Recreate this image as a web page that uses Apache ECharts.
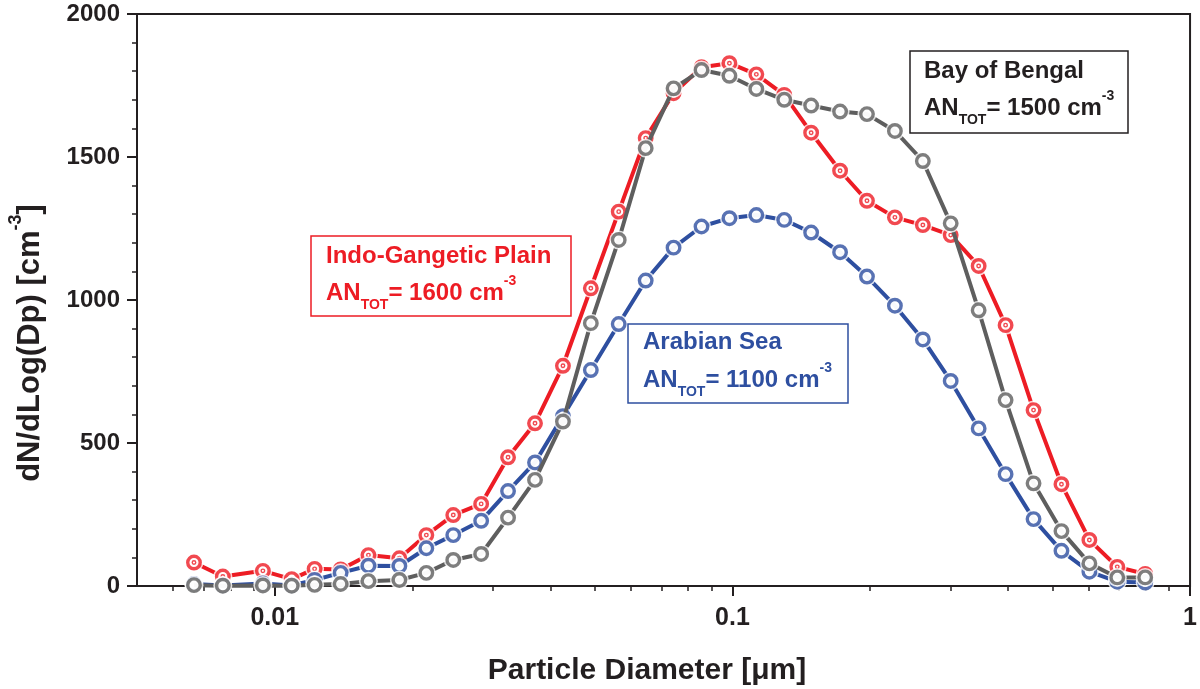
<!DOCTYPE html>
<html>
<head>
<meta charset="utf-8">
<title>Particle size distributions</title>
<script src="https://cdn.jsdelivr.net/npm/echarts@6/dist/echarts.min.js"></script>
<style>
  html, body { margin: 0; padding: 0; background: #fff; }
  #main { width: 1200px; height: 689px; }
</style>
</head>
<body>
<div id="main"></div>
<script>
// particle diameter of each size bin [um]
var diameter = [0.00666, 0.0077, 0.00942, 0.01089, 0.01222, 0.01393, 0.01602, 0.01872, 0.02144,
  0.02455, 0.02825, 0.03234, 0.03704, 0.04263, 0.04905, 0.05644, 0.06464, 0.07437, 0.0856,
  0.09851, 0.1128, 0.1298, 0.1486, 0.1719, 0.1968, 0.2265, 0.2607, 0.2999, 0.3452, 0.3953,
  0.455, 0.5236, 0.6026, 0.6934, 0.798];

// dN/dLog(Dp) [cm-3]
var indoGangetic = [82, 33, 53, 24, 60, 58, 108, 97, 178, 248, 287, 450, 569, 770, 1041, 1309,
  1566, 1723, 1814, 1828, 1789, 1717, 1585, 1452, 1347, 1289, 1262, 1227, 1119, 912, 615, 356,
  161, 67, 42];
var arabianSea = [7, 2, 9, 2, 21, 46, 71, 70, 132, 178, 228, 332, 432, 594, 755, 916, 1068, 1183,
  1257, 1286, 1297, 1280, 1236, 1167, 1082, 980, 862, 717, 551, 391, 234, 123, 50, 15, 12];
var bayOfBengal = [3, 1, 2, 1, 4, 7, 17, 21, 46, 91, 112, 239, 371, 575, 919, 1210, 1531, 1740,
  1804, 1784, 1738, 1700, 1680, 1659, 1650, 1591, 1486, 1268, 964, 650, 359, 192, 79, 30, 30];

var xMajorTicks = [0.01, 0.1, 1];
var xMinorTicks = [0.006, 0.007, 0.008, 0.009, 0.02, 0.03, 0.04, 0.05, 0.06, 0.07, 0.08, 0.09,
  0.2, 0.3, 0.4, 0.5, 0.6, 0.7, 0.8, 0.9];

var RED = '#ed1c24', BLUE = '#2e4fa0', GRAY = '#5e5e5e', INK = '#231f20';
var FONT = 'Arial, "Liberation Sans", sans-serif';

function pairs(vals) {
  return diameter.map(function (d, i) { return [d, vals[i]]; });
}

// line, white halo round each marker, open circle marker
function region(name, vals, color, z) {
  var data = pairs(vals);
  return [
    { name: name, type: 'line', data: data, showSymbol: false, z: z,
      lineStyle: { color: color, width: 4 }, silent: true },
    { type: 'scatter', data: data, symbol: 'circle', symbolSize: 19, z: z + 1,
      itemStyle: { color: '#fff' }, silent: true },
    { type: 'scatter', data: data, symbol: 'circle', symbolSize: 12.5, z: z + 2,
      itemStyle: { color: '#fff', borderColor: color, borderWidth: 3.4 }, silent: true }
  ];
}

var series = [].concat(
  region('Indo-Gangetic Plain', indoGangetic, RED, 1),
  [{ type: 'scatter', data: pairs(indoGangetic), symbol: 'circle', symbolSize: 3.5, z: 4,
     itemStyle: { color: '#fff', borderColor: RED, borderWidth: 1.4 }, silent: true }],
  region('Arabian Sea', arabianSea, BLUE, 5),
  region('Bay of Bengal', bayOfBengal, GRAY, 8)
);

function boxText(x, y, text, color) {
  return {
    type: 'text', x: x, y: y, z: 100,
    style: {
      text: text, fill: color, fontSize: 24, fontWeight: 'bold', fontFamily: FONT,
      verticalAlign: 'middle', lineHeight: 38,
      rich: {
        sub: { fontSize: 14, fontWeight: 'bold', fontFamily: FONT, fill: color,
               verticalAlign: 'bottom', lineHeight: 14 },
        sup: { fontSize: 14, fontWeight: 'bold', fontFamily: FONT, fill: color,
               verticalAlign: 'top', lineHeight: 14 }
      }
    }
  };
}
function boxFrame(x, y, w, h, color) {
  return { type: 'rect', z: 100, shape: { x: x, y: y, width: w, height: h },
           style: { fill: '#fff', stroke: color, lineWidth: 1.5 } };
}

var chart = echarts.init(document.getElementById('main'));
chart.setOption({
  animation: false,
  backgroundColor: '#fff',
  grid: { left: 137, right: 7, top: 14, bottom: 103, show: true,
          borderColor: INK, borderWidth: 2, backgroundColor: 'transparent' },
  xAxis: [{
    type: 'log', logBase: 10, min: 0.005, max: 1, position: 'bottom',
    axisLine: { lineStyle: { color: INK, width: 2 } },
    axisTick: { length: 10, customValues: xMajorTicks, lineStyle: { color: INK, width: 2 } },
    axisLabel: { customValues: xMajorTicks, margin: 20, color: INK, fontSize: 25,
                 fontWeight: 'bold', fontFamily: FONT,
                 formatter: function (v) { return String(v); } },
    splitLine: { show: false }
  }, {
    type: 'log', logBase: 10, min: 0.005, max: 1, position: 'bottom', offset: 0,
    axisLine: { show: false },
    axisTick: { length: 5, customValues: xMinorTicks, lineStyle: { color: INK, width: 1.5 } },
    axisLabel: { show: false },
    splitLine: { show: false }
  }],
  yAxis: {
    type: 'value', min: 0, max: 2000, interval: 500,
    axisLine: { show: true, lineStyle: { color: INK, width: 2 } },
    axisTick: { show: true, length: 10, lineStyle: { color: INK, width: 2 } },
    minorTick: { show: true, splitNumber: 5, length: 5, lineStyle: { color: INK, width: 1.5 } },
    axisLabel: { margin: 17, color: INK, fontSize: 24, fontWeight: 'bold', fontFamily: FONT,
                 formatter: function (v) { return String(v); } },
    splitLine: { show: false }
  },
  series: series,
  graphic: [
    // axis titles
    { type: 'text', x: 647, y: 671, z: 100,
      style: { text: 'Particle Diameter [\u03bcm]', fill: INK, fontSize: 30, fontWeight: 'bold',
               fontFamily: FONT, align: 'center', verticalAlign: 'middle' } },
    { type: 'text', x: 30, y: 343, rotation: Math.PI / 2, z: 100,
      style: { text: 'dN/dLog(Dp) [cm{sup|-3}]', fill: INK, fontSize: 31, fontWeight: 'bold',
               fontFamily: FONT, align: 'center', verticalAlign: 'middle', lineHeight: 46,
               rich: { sup: { fontSize: 18, fontWeight: 'bold', fontFamily: FONT, fill: INK,
                              verticalAlign: 'top', lineHeight: 18 } } } },
    // region annotations
    boxFrame(311, 236, 260, 80, RED),
    boxText(326, 256, 'Indo-Gangetic Plain', RED),
    boxText(326, 293, 'AN{sub|TOT}= 1600 cm{sup|-3}', RED),
    boxFrame(628, 324, 220, 79, BLUE),
    boxText(643, 342, 'Arabian Sea', BLUE),
    boxText(643, 380, 'AN{sub|TOT}= 1100 cm{sup|-3}', BLUE),
    boxFrame(910, 51, 218, 82, INK),
    boxText(924, 71, 'Bay of Bengal', INK),
    boxText(924, 108, 'AN{sub|TOT}= 1500 cm{sup|-3}', INK)
  ]
});
</script>
</body>
</html>
